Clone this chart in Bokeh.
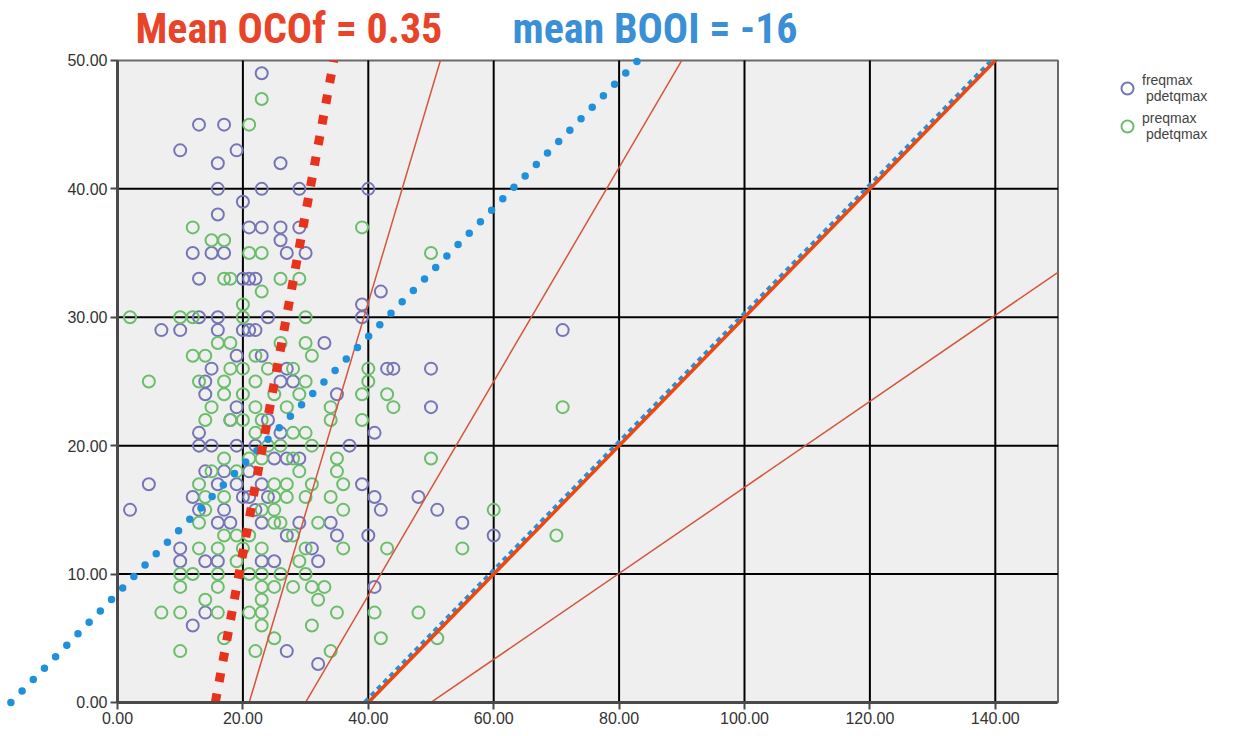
from bokeh.plotting import figure
from bokeh.models import (Range1d, LinearAxis, FixedTicker, NumeralTickFormatter,
                          Label, Legend, LegendItem)
from bokeh.embed import file_html
from bokeh.resources import INLINE

# ---------------- data ----------------
x_ticks = [0, 20, 40, 60, 80, 100, 120, 140]
y_ticks = [0, 10, 20, 30, 40, 50]
x_max = 150
y_max = 50

freq_pts = [(23,49),(13,45),(17,45),(10,43),(19,43),(16,42),(26,42),(16,40),(23,40),(29,40),(40,40),
            (20,39),(16,38),(21,37),(23,37),(26,37),(29,37),(26,36),(12,35),(15,35),(17,35),(27,35),
            (30,35),(13,33),(20,33),(21,33),(22,33),(13,30),(16,30),(7,29),(10,29),(16,29),(20,29),
            (21,29),(22,29),(19,27),(23,27),(15,26),(27,26),(14,25),(26,25),(28,25),(14,24),(19,23),
            (18,22),(24,22),(26,21),(13,21),(19,20),(22,20),(13,20),(15,20),(25,19),(27,19),(29,19),
            (14,18),(21,18),(16,17),(17,18),(19,17),(23,17),(5,17),(12,16),(20,16),(21,16),(24,16),
            (2,15),(13,15),(17,15),(22,15),(16,14),(18,14),(23,14),(29,14),(27,13),(10,12),(10,11),
            (14,11),(16,11),(23,11),(25,11),(14,7),(12,6),(27,4),(42,32),(39,31),(39,30),(33,28),
            (43,26),(44,26),(50,26),(35,24),(50,23),(41,21),(37,20),(39,17),(41,16),(42,15),(48,16),
            (51,15),(55,14),(34,14),(35,13),(40,13),(31,12),(32,11),(41,9),(32,3),(71,29),(60,13),(24,30)]
freq_x = [a for a, b in freq_pts]
freq_y = [b for a, b in freq_pts]

preq_pts = [(23,47),(21,45),(12,37),(39,37),(15,36),(17,36),(21,35),(23,35),(50,35),(17,33),(18,33),
            (26,33),(29,33),(23,32),(20,31),(2,30),(10,30),(12,30),(20,30),(30,30),(16,28),(18,28),
            (30,28),(26,28),(12,27),(14,27),(22,27),(31,27),(20,26),(24,26),(28,26),(40,26),(18,26),
            (5,25),(13,25),(17,25),(22,25),(30,25),(40,25),(17,24),(20,24),(25,24),(29,24),(39,24),
            (43,24),(15,23),(22,23),(27,23),(34,23),(44,23),(71,23),(14,22),(18,22),(20,22),(23,22),
            (34,22),(39,22),(22,21),(28,21),(30,21),(24,20),(26,20),(31,20),(17,19),(21,19),(23,19),
            (28,19),(35,19),(50,19),(15,18),(19,18),(29,18),(35,18),(13,17),(25,17),(27,17),(31,17),
            (36,17),(14,16),(17,16),(25,16),(27,16),(30,16),(34,16),(14,15),(23,15),(25,15),(36,15),
            (60,15),(13,14),(25,14),(26,14),(32,14),(17,13),(19,13),(21,13),(28,13),(70,13),(13,12),
            (16,12),(20,12),(23,12),(30,12),(36,12),(43,12),(55,12),(19,11),(29,11),(10,10),(12,10),
            (16,10),(21,10),(23,10),(26,10),(30,10),(10,9),(16,9),(23,9),(25,9),(28,9),(31,9),(33,9),
            (14,8),(23,8),(32,8),(7,7),(10,7),(16,7),(21,7),(23,7),(35,7),(41,7),(48,7),(23,6),(31,6),
            (17,5),(25,5),(42,5),(51,5),(10,4),(22,4),(34,4)]
preq_x = [a for a, b in preq_pts]
preq_y = [b for a, b in preq_pts]

# reference lines (endpoints)
ocof_x = [15.6, 34.5]; ocof_y = [0, 50]          # mean OCOf = 0.35
booi_mean_x = [-17, 83]; booi_mean_y = [0, 50]    # mean BOOI = -16
booi40_x = [39.5, 139.5]; booi40_y = [0, 50]
line_a_x = [21, 51.5]; line_a_y = [0, 50]
line_b_x = [30, 90]; line_b_y = [0, 50]
line_c_x = [40, 140]; line_c_y = [0, 50]
line_d_x = [50, 150]; line_d_y = [0, 33.5]

# ---------------- figure ----------------
p = figure(width=1236, height=736, x_range=Range1d(-18.66, 178.47), y_range=Range1d(-2.65, 54.67),
           output_backend="svg", toolbar_location=None, x_axis_location=None, y_axis_location=None,
           min_border=0, outline_line_color=None)
p.grid.visible = False
p.background_fill_color = "white"
p.border_fill_color = "white"

# plot area
p.quad(left=[0], right=[x_max], bottom=[0], top=[y_max], fill_color="#efefef",
       line_color="#6a6a6a", line_width=2)
gx = [t for t in x_ticks if 0 < t < x_max]
gy = [t for t in y_ticks if 0 < t < y_max]
p.segment(x0=gx, y0=[0]*len(gx), x1=gx, y1=[y_max]*len(gx), line_color="black", line_width=2)
p.segment(x0=[0]*len(gy), y0=gy, x1=[x_max]*len(gy), y1=gy, line_color="black", line_width=2)

r_freq = p.scatter(freq_x, freq_y, marker="circle", size=12, fill_color=None,
                   line_color="#7676b6", line_width=2)
r_preq = p.scatter(preq_x, preq_y, marker="circle", size=12, fill_color=None,
                   line_color="#6cbd6c", line_width=2)

thin = "#d4563f"
p.line(line_a_x, line_a_y, line_color=thin, line_width=1.5)
p.line(line_b_x, line_b_y, line_color=thin, line_width=1.5)
p.line(line_d_x, line_d_y, line_color=thin, line_width=1.5)
p.line(booi40_x, booi40_y, line_color="#2a8fd8", line_width=5, line_dash="5 4")
p.line(line_c_x, line_c_y, line_color="#ea4a12", line_width=3.5)
p.line(booi_mean_x, booi_mean_y, line_color="#2190dc", line_width=7.5, line_dash="0 16",
       line_cap="round")
p.line(ocof_x, ocof_y, line_color="#e8321c", line_width=9, line_dash="9 12")

# axes
xaxis = LinearAxis(fixed_location=0, bounds=(0, x_max), ticker=FixedTicker(ticks=x_ticks),
                   formatter=NumeralTickFormatter(format="0.00"))
yaxis = LinearAxis(fixed_location=0, bounds=(0, y_max), ticker=FixedTicker(ticks=y_ticks),
                   formatter=NumeralTickFormatter(format="0.00"))
for ax in (xaxis, yaxis):
    ax.axis_line_color = "#4a4a4a"
    ax.axis_line_width = 3
    ax.major_tick_line_color = "#4a4a4a"
    ax.major_tick_line_width = 2
    ax.major_tick_out = 7
    ax.major_tick_in = 0
    ax.minor_tick_out = 0
    ax.minor_tick_in = 0
    ax.major_label_text_font = "Liberation Sans"
    ax.major_label_text_font_size = "16px"
    ax.major_label_text_color = "#333333"
    ax.major_label_standoff = 3
p.add_layout(xaxis, "below")
p.add_layout(yaxis, "left")

# legend
legend = Legend(items=[LegendItem(label="freqmax\n pdetqmax", renderers=[r_freq]),
                       LegendItem(label="preqmax\n pdetqmax", renderers=[r_preq])],
                location=(1112, 594), background_fill_alpha=0, border_line_color=None,
                label_text_font="Liberation Sans", label_text_font_size="14px",
                label_text_color="#444444", glyph_width=30, glyph_height=30,
                label_standoff=0, spacing=6, padding=0, margin=0)
p.add_layout(legend)

# titles
p.add_layout(Label(x=135, y=736 - 3, x_units="screen", y_units="screen", text="Mean OCOf = 0.35",
                   text_font="Liberation Sans Narrow, Roboto Condensed, sans-serif",
                   text_font_size="42px", text_font_style="bold",
                   text_color="#e8442a", text_baseline="top"))
p.add_layout(Label(x=512, y=736 - 3, x_units="screen", y_units="screen", text="mean BOOI = -16",
                   text_font="Liberation Sans Narrow, Roboto Condensed, sans-serif",
                   text_font_size="42px", text_font_style="bold",
                   text_color="#3a8fd6", text_baseline="top"))

open("out.html", "w").write(file_html(p, INLINE))
